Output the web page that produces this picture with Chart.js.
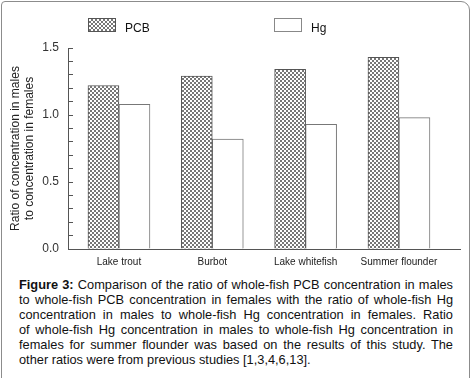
<!DOCTYPE html>
<html>
<head>
<meta charset="utf-8">
<script src="https://cdn.jsdelivr.net/npm/chart.js@4.4.0/dist/chart.umd.min.js"></script>
<style>
body{margin:0;background:#fff;font-family:"Liberation Sans",Arial,sans-serif;}
#wrap{position:relative;width:471px;height:378px;overflow:hidden;background:#fff;}
#frame{position:absolute;left:1px;top:1px;width:467px;height:420px;border:1px solid #8c8c8c;border-radius:4px 9px 0 0;}
#chart{position:absolute;left:0;top:0;}
.sw{position:absolute;top:18px;width:28px;height:14px;box-sizing:border-box;}
#swPcb{left:88px;border:1px solid #555;background:repeating-conic-gradient(#777 0 25%,#fff 0 50%) 0 0/4px 4px;}
#swHg{left:274px;border:1px solid #888;background:#fff;}
.lt{position:absolute;top:21px;font-size:12px;line-height:14px;color:#111;}
#caption{position:absolute;left:19px;top:277px;width:434px;font-size:12.8px;line-height:15px;color:#111;}
#caption div{text-align:justify;text-align-last:justify;}
#caption div.last{text-align-last:left;}
</style>
</head>
<body>
<div id="wrap">
  <div id="frame"></div>
  <canvas id="chart" width="471" height="272"></canvas>
  <div class="sw" id="swPcb"></div><span class="lt" style="left:125px">PCB</span>
  <div class="sw" id="swHg"></div><span class="lt" style="left:311px">Hg</span>
  <div id="caption">
    <div><b>Figure 3:</b> Comparison of the ratio of whole-fish PCB concentration in males</div>
    <div>to whole-fish PCB concentration in females with the ratio of whole-fish Hg</div>
    <div>concentration in males to whole-fish Hg concentration in females. Ratio</div>
    <div>of whole-fish Hg concentration in males to whole-fish Hg concentration in</div>
    <div>females for summer flounder was based on the results of this study. The</div>
    <div class="last">other ratios were from previous studies [1,3,4,6,13].</div>
  </div>
</div>
<script>
const categories = ['Lake trout', 'Burbot', 'Lake whitefish', 'Summer flounder'];
const pcbRatio = [1.22, 1.29, 1.34, 1.43];
const hgRatio = [1.08, 0.82, 0.93, 0.98];
const yLabels = [0.0, 0.5, 1.0, 1.5];

// checkerboard fill like the printed figure
function checker() {
  const c = document.createElement('canvas');
  c.width = 4; c.height = 4;
  const g = c.getContext('2d');
  g.fillStyle = '#fff'; g.fillRect(0, 0, 4, 4);
  g.fillStyle = '#777'; g.fillRect(0, 0, 2, 2); g.fillRect(2, 2, 2, 2);
  return g.createPattern(c, 'repeat');
}

const ctx = document.getElementById('chart').getContext('2d');
const font = { family: '"Liberation Sans", Arial, sans-serif' };

new Chart(ctx, {
  type: 'bar',
  data: {
    datasets: [
      { label: 'PCB', data: pcbRatio.map((v, i) => ({ x: i, y: v })),
        backgroundColor: checker(), borderColor: '#555', borderWidth: 1, borderSkipped: 'bottom' },
      { label: 'Hg', data: hgRatio.map((v, i) => ({ x: i, y: v })),
        backgroundColor: '#fff', borderColor: '#777', borderWidth: 1, borderSkipped: 'bottom' }
    ]
  },
  options: {
    responsive: false,
    animation: false,
    barThickness: 31,
    layout: { padding: { left: 0, right: 11, top: 48, bottom: 0 } },
    plugins: { legend: { display: false }, tooltip: { enabled: false } },
    scales: {
      x: {
        type: 'linear', min: -0.546, max: 3.654, offset: false,
        afterBuildTicks: s => { s.ticks = categories.map((c, i) => ({ value: i })); },
        afterFit: s => { s.height = 23; },
        grid: { display: false, drawTicks: false, offset: false },
        border: { color: '#555' },
        ticks: { padding: 7, color: '#222', autoSkip: false, maxRotation: 0, font: { ...font, size: 10 },
          callback: v => categories[v] ?? '' }
      },
      y: {
        min: 0, max: 1.5,
        afterBuildTicks: s => { s.ticks = Array.from({ length: 16 }, (_, i) => ({ value: i / 10 })); },
        afterFit: s => { s.width = 68; },
        grid: { drawOnChartArea: false, tickLength: -5, color: '#555' },
        border: { color: '#555' },
        ticks: { autoSkip: false, padding: 14, color: '#333', font: { ...font, size: 12 },
          callback: v => yLabels.some(t => Math.abs(t - v) < 1e-6) ? v.toFixed(1) : '' },
        title: { display: true, text: ['Ratio of concentration in males', 'to concentration in females'],
          color: '#222', font: { ...font, size: 12 }, padding: { top: 8 } }
      }
    }
  }
});
</script>
</body>
</html>
